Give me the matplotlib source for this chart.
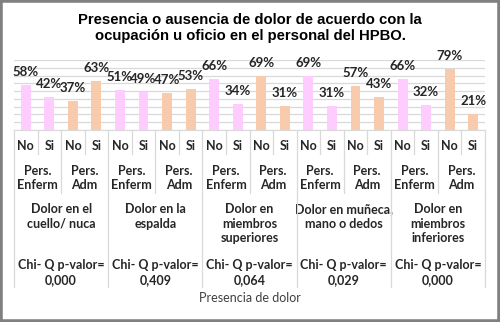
import matplotlib.pyplot as plt
from matplotlib import transforms
from matplotlib.lines import Line2D
from matplotlib.patches import Rectangle

# datos
grupos = ["Dolor en el\ncuello/ nuca", "Dolor en la\nespalda", "Dolor en\nmiembros\nsuperiores",
          "Dolor en muñeca,\nmano o dedos", "Dolor en\nmiembros\ninferiores"]
p_valores = ["0,000", "0,409", "0,064", "0,029", "0,000"]
personal = ["Pers.\nEnferm", "Pers.\nAdm"]
presencia = ["No", "Si"]
enferm_no = [58, 51, 66, 69, 66]
enferm_si = [42, 49, 34, 31, 32]
adm_no = [37, 47, 69, 57, 79]
adm_si = [63, 53, 31, 43, 21]

col_enf = "#FFCCFF"
col_adm = "#F8CBAD"
grid_col = "#D9D9D9"

W, H = 500, 322
fig = plt.figure(figsize=(W / 100, H / 100), dpi=100)
fig.patch.set_facecolor("white")

def fy(px):
    return 1 - px / H

ax = fig.add_axes([14 / W, fy(130), (485 - 14) / W, (130 - 60) / H])

# valores en orden de las barras
valores, colores = [], []
for i in range(len(grupos)):
    valores += [enferm_no[i], enferm_si[i], adm_no[i], adm_si[i]]
    colores += [col_enf, col_enf, col_adm, col_adm]
x = list(range(len(valores)))

ax.bar(x, valores, width=0.42, color=colores, zorder=2)
for xi, v in zip(x, valores):
    ax.annotate(f"{v}%", (xi, v), xytext=(0, 5), textcoords="offset points",
                ha="center", va="bottom", fontsize=9.5, fontweight="bold",
                family="Lato", color="#262626")

ax.set_xlim(-0.5, len(valores) - 0.5)
ax.set_ylim(0, 90)
ax.set_yticks(range(0, 91, 10))
ax.yaxis.grid(True, color=grid_col, lw=0.9, zorder=0)
ax.set_xticks([])
ax.tick_params(left=False, labelleft=False)
for s in ["top", "right", "left"]:
    ax.spines[s].set_visible(False)
ax.spines["bottom"].set_color(grid_col)

# etiquetas del eje de categorias en varios niveles
tr = transforms.blended_transform_factory(ax.transData, fig.transFigure)
txt = dict(transform=tr, ha="center", family="Lato", fontsize=9, color="#262626")

def sep(xb, y0, y1):
    fig.add_artist(Line2D([xb, xb], [fy(y0), fy(y1)], transform=tr,
                          color=grid_col, lw=0.9, clip_on=False))

for k in range(len(valores) + 1):
    xb = k - 0.5
    sep(xb, 130, 154)
    if k % 2 == 0:
        sep(xb, 154, 193)
    if k % 4 == 0:
        sep(xb, 193, 287)

for k in range(len(valores)):
    ax.text(k, fy(146), presencia[k % 2], va="center", fontweight="bold", **txt)
for k in range(0, len(valores), 2):
    ax.text(k + 0.5, fy(178), personal[(k // 2) % 2], va="center",
            fontweight="bold", linespacing=1.25, **txt)
for i, g in enumerate(grupos):
    xc = i * 4 + 1.5
    ax.text(xc, fy(203), g, va="top", fontweight="bold", linespacing=1.25, **txt)
    ax.text(xc, fy(272.5), "Chi- Q p-valor=\n" + p_valores[i], va="center",
            fontweight="bold", linespacing=1.25, **txt)

fig.text(0.5, fy(298), "Presencia de dolor", ha="center", va="center",
         family="Lato", fontsize=9, color="#404040")

fig.text(0.5, fy(28), "Presencia o ausencia de dolor de acuerdo con la\n"
         "ocupación u oficio en el personal del HPBO.", ha="center", va="center",
         family="Liberation Sans", fontsize=10.7, fontweight="bold", linespacing=1.12)

# borde exterior
fig.add_artist(Rectangle((0, 0), 1, 1, transform=fig.transFigure, fill=False,
                         edgecolor="#808080", lw=4))

fig.savefig("out.png", dpi=100)
